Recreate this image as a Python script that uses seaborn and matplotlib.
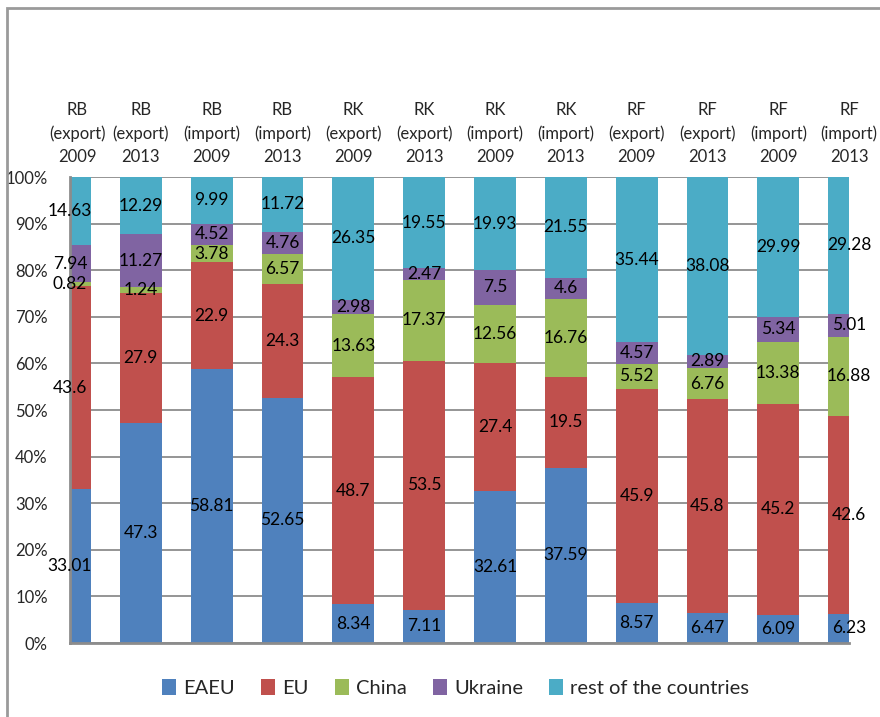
import numpy as np
import pandas as pd
import matplotlib
matplotlib.use("Agg")
import matplotlib.pyplot as plt
import matplotlib.transforms as mtransforms
from matplotlib.patches import Rectangle
import seaborn as sns

# column labels shown above the bars
categories = ["RB\n(export)\n2009", "RB\n(export)\n2013", "RB\n(import)\n2009", "RB\n(import)\n2013",
              "RK\n(export)\n2009", "RK\n(export)\n2013", "RK\n(import)\n2009", "RK\n(import)\n2013",
              "RF\n(export)\n2009", "RF\n(export)\n2013", "RF\n(import)\n2009", "RF\n(import)\n2013"]

eaeu = [33.01, 47.3, 58.81, 52.65, 8.34, 7.11, 32.61, 37.59, 8.57, 6.47, 6.09, 6.23]
eu = [43.6, 27.9, 22.9, 24.3, 48.7, 53.5, 27.4, 19.5, 45.9, 45.8, 45.2, 42.6]
china = [0.82, 1.24, 3.78, 6.57, 13.63, 17.37, 12.56, 16.76, 5.52, 6.76, 13.38, 16.88]
ukraine = [7.94, 11.27, 4.52, 4.76, 2.98, 2.47, 7.5, 4.6, 4.57, 2.89, 5.34, 5.01]
rest = [14.63, 12.29, 9.99, 11.72, 26.35, 19.55, 19.93, 21.55, 35.44, 38.08, 29.99, 29.28]

series_names = ["EAEU", "EU", "China", "Ukraine", "rest of the countries"]
colors = ["#4F81BD", "#C0504D", "#9BBB59", "#8064A2", "#4BACC6"]

sns.set_style("white")
plt.rcParams['font.family'] = ['Lato', 'DejaVu Sans']

data = pd.DataFrame({"EAEU": eaeu, "EU": eu, "China": china,
                     "Ukraine": ukraine, "rest of the countries": rest})
totals = data.sum(axis=1)
shares = data.div(totals, axis=0) * 100  # 100% stacked

fig = plt.figure(figsize=(8.8, 7.17), dpi=100)
ax = fig.add_axes([0.0795, 0.1032, 0.8855, 0.6498])

x = np.arange(len(categories))
bottom = np.zeros(len(categories))
for name, col in zip(series_names, colors):
    vals = shares[name].values
    sns.barplot(x=x, y=vals, bottom=bottom, color=col, width=0.59,
                ax=ax, label=name, saturation=1, linewidth=0, order=x)
    for xi, b, v, raw in zip(x, bottom, vals, data[name].values):
        ax.text(xi, b + v / 2, f"{raw:g}", ha="center", va="center",
                fontsize=12.5, color="black", clip_on=False, zorder=5)
    bottom = bottom + vals

handles, labels = ax.get_legend_handles_labels()
if ax.get_legend() is not None:
    ax.get_legend().remove()

ax.set_xlim(0, 11)
ax.set_ylim(0, 100)
ax.set_yticks(np.arange(0, 101, 10))
ax.set_yticklabels([f"{t}%" for t in range(0, 101, 10)], fontsize=12)
ax.set_xticks([])
ax.set_xlabel("")
ax.set_ylabel("")
ax.yaxis.grid(True, color="#8c8c8c", linewidth=1.3)
ax.set_axisbelow(True)
ax.tick_params(axis="y", length=0, pad=16)
for s in ["top", "right"]:
    ax.spines[s].set_visible(False)
for s in ["left", "bottom"]:
    ax.spines[s].set_color("#8c8c8c")
    ax.spines[s].set_linewidth(2)

# category labels above the plot
trans = mtransforms.blended_transform_factory(ax.transData, ax.transAxes)
for xi, lab in zip(x, categories):
    ax.text(xi + (0.1 if xi == 0 else 0), 1.025, lab, transform=trans, ha="center",
            va="bottom", fontsize=12, linespacing=1.55, clip_on=False)

fig.legend(handles, labels, loc="center", bbox_to_anchor=(0.518, 0.04),
           ncol=5, frameon=False, fontsize=14.5, handlelength=0.7,
           handleheight=0.8, handletextpad=0.35, columnspacing=1.3)

# outer chart border (partially outside the image)
fig.patches.append(Rectangle((7 / 880, -0.1), 1.2, (717 - 8) / 717 + 0.1,
                             transform=fig.transFigure, fill=False,
                             edgecolor="#9a9a9a", linewidth=2))

fig.savefig("out.png", dpi=100)
